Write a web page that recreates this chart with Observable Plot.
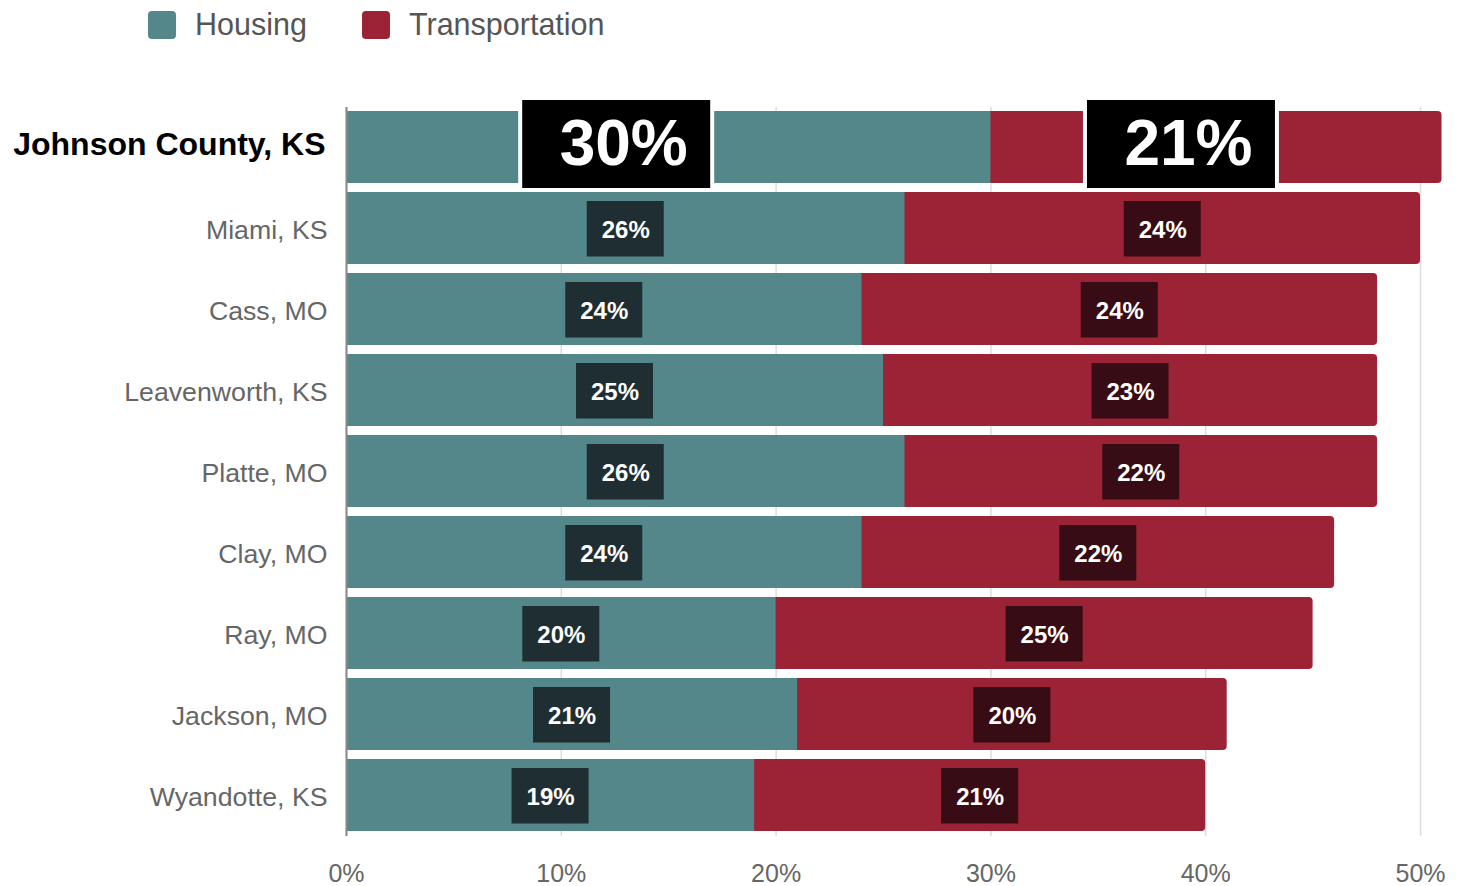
<!DOCTYPE html>
<html>
<head>
<meta charset="utf-8">
<script src="https://cdn.jsdelivr.net/npm/d3@7"></script>
<script src="https://cdn.jsdelivr.net/npm/@observablehq/plot@0.6"></script>
<style>
  body { margin: 0; background: #fff; font-family: "Liberation Sans", Arial, sans-serif; }
  #legend { height: 50px; position: relative; }
  .item { position: absolute; top: 7px; display: flex; align-items: center; font-size: 30.5px; color: #555; }
  .sw { width: 28px; height: 28px; border-radius: 4px; margin-right: 19px; }
</style>
</head>
<body>
<div id="legend"></div>
<div id="chart"></div>
<script>
const categories = ["Johnson County, KS","Miami, KS","Cass, MO","Leavenworth, KS","Platte, MO","Clay, MO","Ray, MO","Jackson, MO","Wyandotte, KS"];
const housing = [30,26,24,25,26,24,20,21,19];
const transportation = [21,24,24,23,22,22,25,20,21];
const xTicks = [0,10,20,30,40,50];
const seriesNames = ["Housing","Transportation"];
const seriesColors = ["#548789","#9c2335"];
const boxColors = ["#1e2e32","#380c14"];
const highlight = "Johnson County, KS";

const rows = categories.map((c, i) => ({
  county: c, housing: housing[i], transport: transportation[i], total: housing[i] + transportation[i]
}));
const main = rows.filter(d => d.county === highlight);
const rest = rows.filter(d => d.county !== highlight);

// legend
const legend = document.getElementById("legend");
const lx = [148, 362];
seriesNames.forEach((n, i) => {
  const it = document.createElement("div");
  it.className = "item";
  it.style.left = lx[i] + "px";
  it.innerHTML = `<span class="sw" style="background:${seriesColors[i]}"></span><span>${n}</span>`;
  legend.appendChild(it);
});

const chart = Plot.plot({
  width: 1470,
  height: 836,
  marginLeft: 346,
  marginRight: 28.5,
  marginTop: 60,
  marginBottom: 54,
  style: { fontFamily: "'Liberation Sans', Arial, sans-serif", background: "#fff", overflow: "visible" },
  x: { domain: [0, 51], axis: null },
  y: { domain: categories, paddingInner: 0.114, paddingOuter: 0, axis: null },
  marks: [
    Plot.gridX(xTicks, { stroke: "#dddddd", strokeOpacity: 1, strokeWidth: 1.5, insetTop: -3, insetBottom: -4 }),
    Plot.barX(rows, { y: "county", x1: 0, x2: "total", fill: seriesColors[1], rx: 4 }),
    Plot.barX(rows, { y: "county", x1: 0, x2: "housing", fill: seriesColors[0] }),
    Plot.ruleX([0], { stroke: "#888", strokeWidth: 2, insetTop: -3, insetBottom: -4 }),
    // small label boxes
    Plot.barX(rest, { y: "county", x1: d => d.housing / 2, x2: d => d.housing / 2,
      insetLeft: -38.5, insetRight: -38.5, insetTop: 9, insetBottom: 7.5, fill: boxColors[0] }),
    Plot.barX(rest, { y: "county", x1: d => d.housing + d.transport / 2, x2: d => d.housing + d.transport / 2,
      insetLeft: -38.5, insetRight: -38.5, insetTop: 9, insetBottom: 7.5, fill: boxColors[1] }),
    Plot.text(rest, { y: "county", x: d => d.housing / 2, text: d => d.housing + "%",
      fill: "white", fontSize: 24, fontWeight: "bold", dy: 2 }),
    Plot.text(rest, { y: "county", x: d => d.housing + d.transport / 2, text: d => d.transport + "%",
      fill: "white", fontSize: 24, fontWeight: "bold", dy: 2 }),
    // big highlight boxes
    Plot.barX(main, { y: "county", x1: d => d.housing / 2, x2: d => d.housing / 2,
      insetLeft: -148, insetRight: -44, insetTop: -13, insetBottom: -7,
      fill: "black", stroke: "white", strokeWidth: 4 }),
    Plot.barX(main, { y: "county", x1: d => d.housing + d.transport / 2, x2: d => d.housing + d.transport / 2,
      insetLeft: -131, insetRight: -61, insetTop: -13, insetBottom: -7,
      fill: "black", stroke: "white", strokeWidth: 4 }),
    Plot.text(main, { y: "county", x: d => d.housing / 2, text: d => d.housing + "%",
      fill: "white", fontSize: 64, fontWeight: "bold", dx: -45, dy: -3 }),
    Plot.text(main, { y: "county", x: d => d.housing + d.transport / 2, text: d => d.transport + "%",
      fill: "white", fontSize: 64, fontWeight: "bold", dx: -28, dy: -3 }),
    // category labels
    Plot.text(rest, { y: "county", text: "county", frameAnchor: "left", textAnchor: "end",
      dx: -19, dy: 2, fontSize: 26.7, fill: "#666" }),
    Plot.text(main, { y: "county", text: "county", frameAnchor: "left", textAnchor: "end",
      dx: -21, dy: -3, fontSize: 32, fontWeight: "bold", fill: "#000" }),
    Plot.axisX(xTicks, { tickFormat: d => d + "%", tickSize: 0, tickPadding: 32, fontSize: 25, fill: "#666" })
  ]
});
document.getElementById("chart").appendChild(chart);
</script>
</body>
</html>
